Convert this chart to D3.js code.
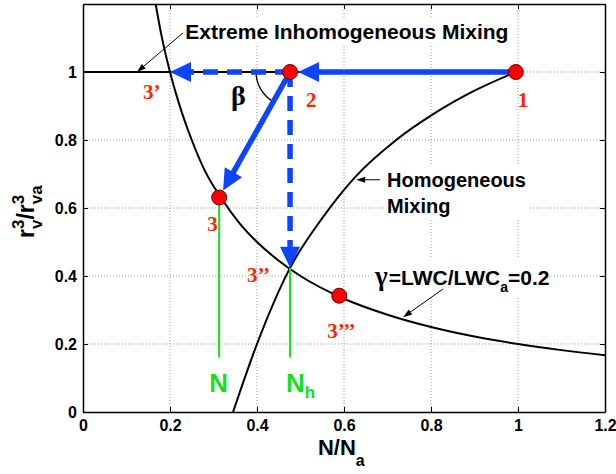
<!DOCTYPE html>
<html>
<head>
<meta charset="utf-8">
<script src="https://cdn.jsdelivr.net/npm/d3@7"></script>
<style>
  body { margin: 0; background: #fff; }
  svg { display: block; }
</style>
</head>
<body>
<div id="chart"></div>
<script>
// values
const xTicks = [0, 0.2, 0.4, 0.6, 0.8, 1, 1.2];
const yTicks = [0, 0.2, 0.4, 0.6, 0.8, 1];

// gamma = LWC/LWCa = 0.2 curve
const gammaX = [0.167, 0.18, 0.2, 0.22, 0.25, 0.28, 0.32, 0.36, 0.4, 0.45, 0.5, 0.6, 0.7, 0.8, 0.9, 1.0, 1.1, 1.2];
const gammaY = [1.2, 1.11, 1.0, 0.91, 0.8, 0.71, 0.625, 0.555, 0.5, 0.445, 0.4, 0.333, 0.286, 0.25, 0.222, 0.2, 0.182, 0.167];

// homogeneous mixing curve
const homX = [0.345, 0.4, 0.476, 0.55, 0.625, 0.72, 0.805, 0.9, 0.995];
const homY = [0, 0.2, 0.424, 0.57, 0.69, 0.8, 0.876, 0.945, 1.0];

// extreme inhomogeneous mixing line
const inhomX = [0, 0.995];
const inhomY = [1, 1];

// named points
const pointNames = ["1", "2", "3’", "3", "3’’", "3’’’"];
const pointX = [0.995, 0.476, 0.2, 0.313, 0.476, 0.589];
const pointY = [1, 1, 1, 0.631, 0.424, 0.342];
const dotNames = ["1", "2", "3", "3’’’"];

// blue arrows: from, to, dashed
const arrowFrom = ["1", "2", "2", "2"];
const arrowTo = ["2", "3’", "3", "3’’"];
const arrowDashed = [false, true, false, true];

// green drop lines
const dropNames = ["3", "3’’"];
const dropBottom = 0.16;

const margin = { top: 4, right: 11, bottom: 62, left: 83 },
    W = 616, H = 474,
    width = W - margin.left - margin.right,
    height = H - margin.top - margin.bottom;

const sans = "'Liberation Sans', Arial, sans-serif";
const serif = "'Liberation Serif', 'Times New Roman', serif";
const blue = "#0d45ff";
const red = "#ff2200";
const green = "#16e016";

const x = d3.scaleLinear().domain([0, 1.2]).range([0, width]);
const y = d3.scaleLinear().domain([0, 1.2]).range([height, 0]);

const svg = d3.select("#chart").append("svg")
    .attr("width", W)
    .attr("height", H)
    .style("background", "#fff")
  .append("g")
    .attr("transform", `translate(${margin.left}, ${margin.top})`);

const pt = {};
pointNames.forEach((n, i) => { pt[n] = [x(pointX[i]), y(pointY[i])]; });

// grid
svg.append("g").selectAll("line")
    .data(xTicks.filter(d => d > 0 && d < 1.2))
    .enter().append("line")
    .attr("x1", d => x(d)).attr("x2", d => x(d))
    .attr("y1", 0).attr("y2", height)
    .attr("stroke", "#999").attr("stroke-width", 1).attr("stroke-dasharray", "1,2");
svg.append("g").selectAll("line")
    .data(yTicks.filter(d => d > 0))
    .enter().append("line")
    .attr("x1", 0).attr("x2", width)
    .attr("y1", d => y(d)).attr("y2", d => y(d))
    .attr("stroke", "#999").attr("stroke-width", 1).attr("stroke-dasharray", "1,2");

// helper: text with sub/superscripts
function richText(parent, px, py, parts, o) {
    const size = o.size, small = o.small || size * 0.7;
    const g = parent.append("g").attr("transform", `translate(${px}, ${py})`)
        .style("font-family", o.family || sans)
        .style("font-weight", o.weight || "bold")
        .style("fill", o.fill || "#000");
    let cx = 0;
    parts.forEach(p => {
        const t = g.append("text").attr("x", cx).attr("y", 0)
            .style("font-size", size + "px").text(p.t);
        cx += t.node().getComputedTextLength();
        let w = 0;
        if (p.sup) {
            const s = g.append("text").attr("x", cx).attr("y", -(o.supShift || size * 0.42))
                .style("font-size", small + "px").text(p.sup);
            w = Math.max(w, s.node().getComputedTextLength());
        }
        if (p.sub) {
            const s = g.append("text").attr("x", cx).attr("y", o.subShift || size * 0.33)
                .style("font-size", small + "px").text(p.sub);
            w = Math.max(w, s.node().getComputedTextLength());
        }
        cx += w;
    });
    return g;
}

function whiteBox(g, pad) {
    const b = g.node().getBBox();
    g.insert("rect", ":first-child")
        .attr("x", b.x - pad).attr("y", b.y - pad)
        .attr("width", b.width + 2 * pad).attr("height", b.height + 2 * pad)
        .attr("fill", "#fff");
}

// arrow helper: line plus filled triangle head
function arrow(parent, p1, p2, o) {
    const dx = p2[0] - p1[0], dy = p2[1] - p1[1];
    const len = Math.hypot(dx, dy), ux = dx / len, uy = dy / len;
    const tip = [p2[0] - ux * (o.shorten || 0), p2[1] - uy * (o.shorten || 0)];
    const base = [tip[0] - ux * o.head, tip[1] - uy * o.head];
    parent.append("line")
        .attr("x1", p1[0]).attr("y1", p1[1])
        .attr("x2", base[0] + ux * 2).attr("y2", base[1] + uy * 2)
        .attr("stroke", o.color).attr("stroke-width", o.lw)
        .attr("stroke-dasharray", o.dash || null);
    parent.append("path")
        .attr("d", `M${tip[0]},${tip[1]}L${base[0] - uy * o.half},${base[1] + ux * o.half}L${base[0] + uy * o.half},${base[1] - ux * o.half}Z`)
        .attr("fill", o.color);
}

// text annotations with white backgrounds (drawn under curves)
const ann = svg.append("g");
const extreme = ann.append("g");
extreme.append("text")
    .attr("x", x(0.235)).attr("y", y(1.098))
    .style("font-family", sans).style("font-weight", "bold").style("font-size", "21px")
    .text("Extreme Inhomogeneous Mixing");
whiteBox(extreme, 3);

const homo = ann.append("g");
homo.append("text")
    .attr("x", x(0.699)).attr("y", y(0.662))
    .style("font-family", sans).style("font-weight", "bold").style("font-size", "20px")
    .text("Homogeneous");
homo.append("text")
    .attr("x", x(0.699)).attr("y", y(0.585))
    .style("font-family", sans).style("font-weight", "bold").style("font-size", "20px")
    .text("Mixing");
whiteBox(homo, 3);

const gam = ann.append("g");
gam.append("text")
    .attr("x", x(0.671)).attr("y", y(0.374))
    .style("font-family", serif).style("font-weight", "bold").style("font-size", "27px")
    .text("γ");
richText(gam, x(0.703), y(0.374), [{ t: "=LWC/LWC", sub: "a" }, { t: "=0.2" }],
    { size: 21, small: 14, subShift: 7 });
whiteBox(gam, 2);

// curves
const line = d3.line().x(d => x(d[0])).y(d => y(d[1])).curve(d3.curveMonotoneX);
svg.append("path")
    .datum(gammaX.map((d, i) => [d, gammaY[i]]))
    .attr("d", line).attr("fill", "none").attr("stroke", "#000").attr("stroke-width", 2);
svg.append("path")
    .datum(homX.map((d, i) => [d, homY[i]]))
    .attr("d", line).attr("fill", "none").attr("stroke", "#000").attr("stroke-width", 2);
svg.append("path")
    .datum(inhomX.map((d, i) => [d, inhomY[i]]))
    .attr("d", d3.line().x(d => x(d[0])).y(d => y(d[1])))
    .attr("fill", "none").attr("stroke", "#000").attr("stroke-width", 2);

// thin annotation arrows
const thin = { color: "#000", lw: 1, head: 9, half: 3 };
arrow(svg, [x(0.23), y(1.115)], [x(0.124), y(1.0)], thin);
arrow(svg, [x(0.683), y(0.683)], [x(0.628), y(0.683)], thin);
arrow(svg, [x(0.828), y(0.362)], [x(0.736), y(0.279)], thin);

// beta angle arc
const c2 = pt["2"], r3 = pt["3"];
const ang = Math.atan2(r3[1] - c2[1], r3[0] - c2[0]), rad = 34;
svg.append("path")
    .attr("d", `M${c2[0] - rad},${c2[1]}A${rad},${rad} 0 0 0 ${c2[0] + rad * Math.cos(ang)},${c2[1] + rad * Math.sin(ang)}`)
    .attr("fill", "none").attr("stroke", "#000").attr("stroke-width", 1.3);
svg.append("text")
    .attr("x", c2[0] - 59).attr("y", c2[1] + 33)
    .style("font-family", serif).style("font-weight", "bold").style("font-size", "28px")
    .text("β");

// green drop lines
svg.append("g").selectAll("line")
    .data(dropNames)
    .enter().append("line")
    .attr("x1", d => pt[d][0]).attr("x2", d => pt[d][0])
    .attr("y1", d => pt[d][1]).attr("y2", y(dropBottom))
    .attr("stroke", green).attr("stroke-width", 2);
richText(svg, pt["3"][0] - 10, y(dropBottom) + 34, [{ t: "N" }], { size: 26, fill: green });
richText(svg, pt["3’’"][0] - 4, y(dropBottom) + 34, [{ t: "N", sub: "h" }], { size: 26, small: 17, subShift: 6, fill: green });

// blue arrows
const blueArrows = svg.append("g");
arrowFrom.forEach((f, i) => {
    const t = arrowTo[i];
    arrow(blueArrows, pt[f], pt[t], {
        color: blue, lw: 5.5, head: 21, half: 10,
        dash: arrowDashed[i] ? "15,9" : null,
        shorten: dotNames.includes(t) ? 8 : 0
    });
});

// red dots
svg.append("g").selectAll("circle")
    .data(dotNames)
    .enter().append("circle")
    .attr("cx", d => pt[d][0]).attr("cy", d => pt[d][1])
    .attr("r", 7.5)
    .attr("fill", "#ff0000").attr("stroke", "#6a0000").attr("stroke-width", 1);

// point labels
const labelOffset = { "1": [2, 35], "2": [16, 35], "3’": [-27, 27], "3": [-12, 34], "3’’": [-43, 14], "3’’’": [-12, 42] };
svg.append("g").selectAll("text")
    .data(pointNames)
    .enter().append("text")
    .attr("x", d => pt[d][0] + labelOffset[d][0])
    .attr("y", d => pt[d][1] + labelOffset[d][1])
    .style("font-family", serif).style("font-weight", "bold").style("font-size", "21px")
    .style("fill", red)
    .text(d => d);

// axes (ticks inward on all four sides)
const fmt = d => d3.format("")(+d.toFixed(1));
svg.append("g")
    .attr("transform", `translate(0, ${height})`)
    .call(d3.axisBottom(x).tickValues(xTicks).tickFormat(fmt).tickSizeInner(-5).tickSizeOuter(0).tickPadding(8));
svg.append("g")
    .call(d3.axisLeft(y).tickValues(yTicks).tickFormat(fmt).tickSizeInner(-5).tickSizeOuter(0).tickPadding(6));
svg.append("g")
    .call(d3.axisTop(x).tickValues(xTicks).tickFormat("").tickSizeInner(-5).tickSizeOuter(0));
svg.append("g")
    .attr("transform", `translate(${width}, 0)`)
    .call(d3.axisRight(y).tickValues(yTicks).tickFormat("").tickSizeInner(-5).tickSizeOuter(0));
svg.selectAll(".domain").attr("stroke", "#000").attr("stroke-width", 1.5);
svg.selectAll(".tick line").attr("stroke", "#000").attr("stroke-width", 1);
svg.selectAll(".tick text")
    .style("font-family", sans).style("font-weight", "bold").style("font-size", "16px")
    .attr("fill", "#000");

// axis labels
richText(svg, x(0.54), height + 43, [{ t: "N/N", sub: "a" }], { size: 22, small: 16, subShift: 11 });
const yl = svg.append("g").attr("transform", `translate(${34 - margin.left}, ${238 - margin.top}) rotate(-90)`);
richText(yl, 0, 0, [{ t: "r", sup: "3", sub: "v" }, { t: "/r", sup: "3", sub: "va" }],
    { size: 23, small: 17, supShift: 10, subShift: 8 });
</script>
</body>
</html>
